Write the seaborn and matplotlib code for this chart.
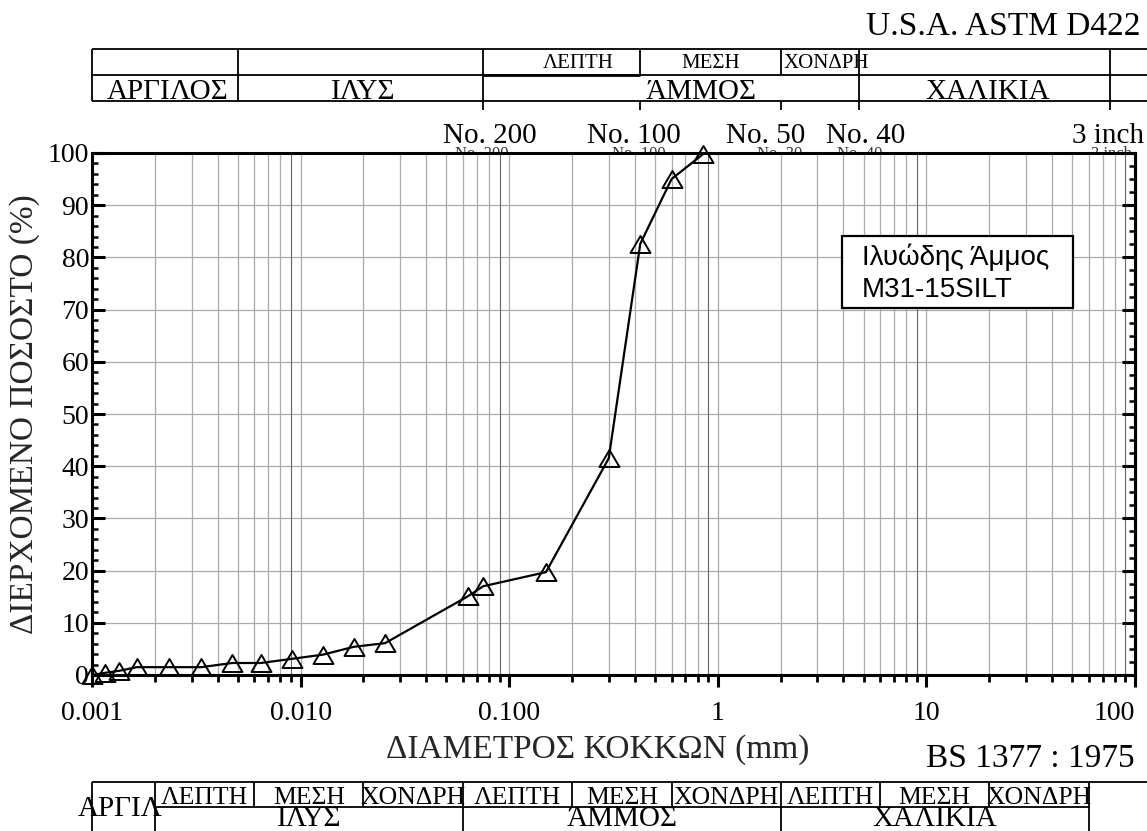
import numpy as np
import matplotlib
matplotlib.use("Agg")
import matplotlib.pyplot as plt
import seaborn as sns
import matplotlib.transforms as mtransforms
from matplotlib.ticker import FixedLocator, FixedFormatter, LogLocator, MultipleLocator, NullFormatter
from matplotlib.patches import Rectangle
from matplotlib.lines import Line2D
from matplotlib.path import Path

# ---------------- data ----------------
diameter_mm = [0.001, 0.00115, 0.00135, 0.00164, 0.00234, 0.00334, 0.00469, 0.00645,
               0.0091, 0.0128, 0.0180, 0.0254, 0.0635, 0.075, 0.150, 0.300, 0.425, 0.600, 0.850]
passing_pct = [0.0, 0.4, 0.8, 1.5, 1.5, 1.5, 2.3, 2.3,
               3.1, 3.9, 5.4, 6.1, 15.1, 17.0, 19.7, 41.5, 82.6, 95.0, 99.8]

x_tick_values = [0.001, 0.01, 0.1, 1, 10, 100]
x_tick_labels = ["0.001", "0.010", "0.100", "1", "10", "100"]

xlabel = "ΔΙΑΜΕΤΡΟΣ ΚΟΚΚΩΝ (mm)"
ylabel = "ΔΙΕΡΧΟΜΕΝΟ ΠΟΣΟΣΤΟ (%)"
sample_lines = ["Ιλυώδης Άμμος", "M31-15SILT"]

astm_title = "U.S.A. ASTM D422"
astm_major_bounds = [0.001, 0.005, 0.075, 4.75, 76.2]
astm_sand_bounds = [0.425, 2.0]
astm_tick_bounds = [0.075, 0.425, 2.0, 4.75, 76.2]
astm_main_labels = ["ΑΡΓΙΛΟΣ", "ΙΛΥΣ", "ΆΜΜΟΣ", "ΧΑΛΙΚΙΑ"]
astm_sub_labels = ["ΛΕΠΤΗ", "ΜΕΣΗ", "ΧΟΝΔΡΗ"]

sieve_labels = ["No. 200", "No. 100", "No. 50", "No. 40", "3 inch"]
sieve_small_labels = ["No. 200", "No. 100", "No. 30", "No. 40", "3 inch"]

bs_title = "BS 1377 : 1975"
bs_major_bounds = [0.001, 0.002, 0.06, 2.0, 60.0]
bs_minor_bounds = [0.006, 0.02, 0.2, 0.6, 6.0, 20.0]
bs_sub_bounds = [0.002, 0.006, 0.02, 0.06, 0.2, 0.6, 2.0, 6.0, 20.0, 60.0]
bs_main_labels = ["ΙΛΥΣ", "ΆΜΜΟΣ", "ΧΑΛΙΚΙΑ"]
bs_sub_labels = ["ΛΕΠΤΗ", "ΜΕΣΗ", "ΧΟΝΔΡΗ"] * 3
bs_clay_label = "ΑΡΓΙΛ"

# ---------------- layout helpers ----------------
W, H = 1147, 831
AX_L, AX_R, AX_T, AX_B = 92, 1135, 153, 675


def fx(px):
    return px / W


def fy(py):
    return 1 - py / H


sns.set_theme(style="white")
plt.rcParams["font.family"] = ["Liberation Serif", "DejaVu Serif"]
plt.rcParams["text.color"] = "black"

fig = plt.figure(figsize=(W / 100, H / 100), dpi=100)
ax = fig.add_axes([fx(AX_L), fy(AX_B), (AX_R - AX_L) / W, (AX_B - AX_T) / H])

grid_col = "#ababab"
ax.set_axisbelow(True)

tri = Path([(-1, -0.85), (1, -0.85), (0, 0.85), (-1, -0.85)], closed=True)
sns.lineplot(x=diameter_mm, y=passing_pct, ax=ax, color="black", linewidth=1.6,
             marker=tri, markersize=14.4, markerfacecolor="none",
             markeredgecolor="black", markeredgewidth=1.4,
             estimator=None, sort=False, clip_on=False, zorder=5)

ax.set_xscale("log")
ax.xaxis.set_major_locator(FixedLocator(x_tick_values))
ax.xaxis.set_major_formatter(FixedFormatter(x_tick_labels))
ax.xaxis.set_minor_locator(LogLocator(base=10, subs=np.arange(2, 10), numticks=30))
ax.xaxis.set_minor_formatter(NullFormatter())
ax.yaxis.set_major_locator(MultipleLocator(10))
ax.yaxis.set_minor_locator(MultipleLocator(2))

ax.grid(True, which="both", axis="x", color=grid_col, linewidth=0.9)
ax.grid(True, which="major", axis="y", color=grid_col, linewidth=0.9)
for k in range(-3, 2):
    ax.axvline(9 * 10.0 ** k, color="#555555", linewidth=0.55, zorder=1.2)

ax.tick_params(axis="x", which="major", direction="out", length=8.6, width=2.2,
               labelsize=20, pad=10, top=False, bottom=True, colors="black")
ax.tick_params(axis="x", which="minor", direction="out", length=5, width=2.0,
               top=False, bottom=True, colors="black")
ax.tick_params(axis="y", which="major", direction="in", length=9.4, width=2.2,
               labelsize=20, pad=2, left=True, right=False, colors="black")
ax.tick_params(axis="y", which="minor", direction="in", length=4.3, width=1.8,
               left=True, right=False, colors="black")
for lab in ax.get_xticklabels():
    lab.set_fontsize(20)
ax.get_xticklabels()[-1].set_horizontalalignment("right")

for s in ax.spines.values():
    s.set_linewidth(2.2)
    s.set_color("black")

ax2 = ax.twinx()
ax2.set_ylim(0, 100)
ax2.yaxis.set_major_locator(MultipleLocator(10))
ax2.yaxis.set_minor_locator(MultipleLocator(2.5))
ax2.tick_params(axis="y", which="major", direction="in", length=9.4, width=2.2,
                labelright=False, right=True, colors="black")
ax2.tick_params(axis="y", which="minor", direction="in", length=4.3, width=1.8,
                right=True, colors="black")
for name, s in ax2.spines.items():
    s.set_visible(name == "right")
    s.set_linewidth(2.2)
    s.set_color("black")

ax.set_xlabel(xlabel, fontsize=24)
ax.xaxis.set_label_coords((598 - AX_L) / (AX_R - AX_L), (AX_B - 758) / (AX_B - AX_T))
ax.xaxis.label.set_verticalalignment("baseline")
ax.set_ylabel(ylabel, fontsize=24)
ax.yaxis.set_label_coords((33 - AX_L) / (AX_R - AX_L), 0.5)
ax.yaxis.label.set_verticalalignment("baseline")


# sample box
def axx(px):
    return (px - AX_L) / (AX_R - AX_L)


def axy(py):
    return (AX_B - py) / (AX_B - AX_T)


ax.add_patch(Rectangle((axx(842), axy(308)), axx(1073) - axx(842), axy(236) - axy(308),
                       transform=ax.transAxes, facecolor="white", edgecolor="black",
                       linewidth=1.6, zorder=6))
for line, py in zip(sample_lines, [265, 297]):
    ax.text(axx(862), axy(py), line, transform=ax.transAxes, fontsize=20,
            family=["Liberation Sans", "DejaVu Sans"], va="baseline", ha="left", zorder=7)

# ---------------- classification tables ----------------
bt = mtransforms.blended_transform_factory(ax.transData, fig.transFigure)
LW = 1.3


def vline(xd, p0, p1, lw=LW):
    ax.plot([xd, xd], [fy(p0), fy(p1)], transform=bt, color="black", linewidth=lw,
            clip_on=False, solid_capstyle="butt", zorder=3)


def hline(px0, px1, p, lw=LW):
    fig.add_artist(Line2D([fx(px0), fx(px1)], [fy(p), fy(p)], color="black",
                          linewidth=lw, solid_capstyle="butt"))


# top (ASTM) table
T0, T1, T2, TT = 49, 75, 101, 110
for p in (T0, T1, T2):
    hline(AX_L, W + 2, p)
ax.plot([astm_major_bounds[2], astm_sand_bounds[0]], [fy(T1), fy(T1)], transform=bt,
        color="black", linewidth=2.0, clip_on=False, solid_capstyle="butt", zorder=3)
for b in astm_major_bounds:
    vline(b, T0, T2)
for b in astm_sand_bounds:
    vline(b, T0, T1)
for b in astm_tick_bounds:
    vline(b, T2, TT)
for lab, px in zip(astm_main_labels, [168, 363, 701, 988]):
    fig.text(fx(px), fy(99), lab, ha="center", va="baseline", fontsize=21)
for lab, px in zip(astm_sub_labels, [578, 711, 826]):
    fig.text(fx(px), fy(68), lab, ha="center", va="baseline", fontsize=15)
fig.text(fx(1140), fy(35), astm_title, ha="right", va="baseline", fontsize=24)

# sieve labels above plot
for lab, px in zip(sieve_labels, [490, 634, 766, 866, 1108]):
    fig.text(fx(px), fy(143), lab, ha="center", va="baseline", fontsize=21)
clip_rect = Rectangle((0, fy(AX_T - 1)), 1, 1, transform=fig.transFigure)
for lab, px in zip(sieve_small_labels, [482, 639, 780, 860, 1111]):
    t = fig.text(fx(px), fy(158), lab, ha="center", va="baseline", fontsize=12,
                 color="#333333")
    t.set_clip_path(clip_rect)

# bottom (BS) table
B0, B1, B2 = 782, 807, 840
fig.text(fx(1135), fy(767), bs_title, ha="right", va="baseline", fontsize=24)
hline(AX_L, W + 2, B0)
ax.plot([bs_sub_bounds[0], bs_sub_bounds[-1]], [fy(B1), fy(B1)], transform=bt,
        color="black", linewidth=LW, clip_on=False, zorder=3)
for b in bs_major_bounds:
    vline(b, B0, B2)
for b in bs_minor_bounds:
    vline(b, B0, B1)
for i, lab in enumerate(bs_sub_labels):
    xc = np.sqrt(bs_sub_bounds[i] * bs_sub_bounds[i + 1])
    ax.text(xc, fy(804), lab, transform=bt, ha="center", va="baseline", fontsize=18.5)
main_edges = bs_major_bounds[1:]
for i, lab in enumerate(bs_main_labels):
    xc = np.sqrt(main_edges[i] * main_edges[i + 1])
    ax.text(xc, fy(826), lab, transform=bt, ha="center", va="baseline", fontsize=21)
fig.text(fx(120), fy(816), bs_clay_label, ha="center", va="baseline", fontsize=21)

ax.set_xlim(0.001, 100)
ax.set_ylim(0, 100)

fig.savefig("out.png", dpi=100)
